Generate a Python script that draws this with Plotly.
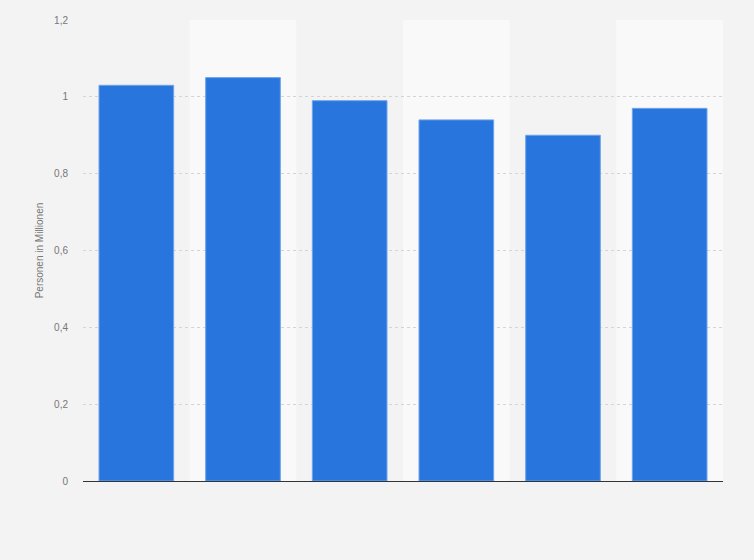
import plotly.graph_objects as go

# categories are not labelled in the source chart
categories = ["1", "2", "3", "4", "5", "6"]
values = [1.03, 1.05, 0.99, 0.94, 0.90, 0.97]
y_ticks = [0, 0.2, 0.4, 0.6, 0.8, 1.0, 1.2]
y_ticklabels = ["0", "0,2", "0,4", "0,6", "0,8", "1", "1,2"]

fig = go.Figure()
fig.add_trace(go.Bar(
    x=categories,
    y=values,
    width=0.7,
    marker=dict(color="#2876dd", line=dict(color="#6fa3ea", width=1)),
))

# lighter background band behind every second category
for i in range(1, len(categories), 2):
    fig.add_shape(type="rect", xref="x", yref="paper",
                  x0=i - 0.5, x1=i + 0.5, y0=0, y1=1,
                  fillcolor="#f9f9f9", line=dict(width=0), layer="below")

fig.update_layout(
    width=754, height=560,
    margin=dict(l=83, r=31, t=20, b=79),
    paper_bgcolor="#f3f3f3",
    plot_bgcolor="#f3f3f3",
    showlegend=False,
    bargap=0.3,
    font=dict(family="Liberation Sans, Arial, sans-serif", size=10, color="#777777"),
)
fig.update_xaxes(
    showticklabels=False, ticks="",
    showgrid=False, showline=True, linecolor="#333333", linewidth=1.2,
    range=[-0.5, 5.5],
)
fig.update_yaxes(
    range=[0, 1.2], tickvals=y_ticks, ticktext=y_ticklabels,
    showgrid=True, gridcolor="#d4d4d4", griddash="dot", gridwidth=1,
    zeroline=False, showline=False, ticks="", ticklabelstandoff=14,
    title=dict(text="Personen in Millionen", font=dict(size=10, color="#777777"), standoff=8),
)

# drop the default page margin so the figure sits at the window corner
fig.write_html("out.html", config={"displayModeBar": False},
               post_script="document.body.style.margin='0';document.body.style.background='#f3f3f3';")
